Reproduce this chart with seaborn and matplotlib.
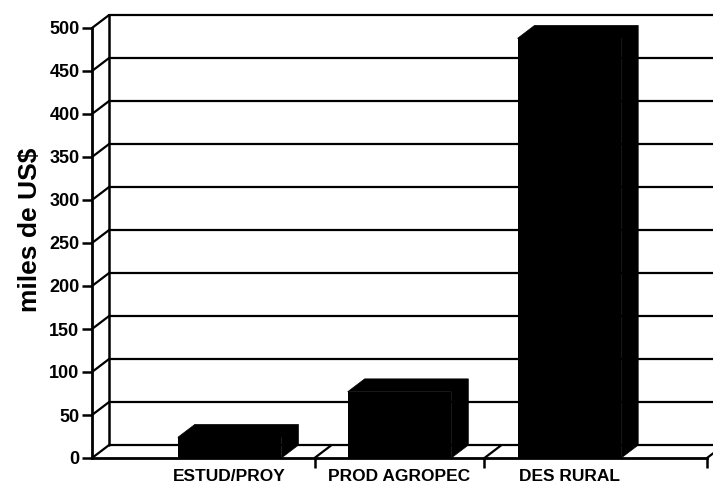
import matplotlib
matplotlib.use("Agg")
import matplotlib.pyplot as plt
from matplotlib.patches import Polygon
import seaborn as sns

categories = ["ESTUD/PROY", "PROD AGROPEC", "DES RURAL"]
values = [24, 77, 488]
yticks = [0, 50, 100, 150, 200, 250, 300, 350, 400, 450, 500]

sns.set_style("white")
plt.rcParams["font.family"] = ["Liberation Sans", "DejaVu Sans"]
plt.rcParams["text.color"] = "black"
plt.rcParams["axes.labelcolor"] = "black"
plt.rcParams["xtick.color"] = "black"
plt.rcParams["ytick.color"] = "black"

fig = plt.figure(figsize=(7.13, 4.84), dpi=100)
ax = fig.add_axes([92 / 713, 26 / 484, 615 / 713, 430 / 484])

sns.barplot(x=categories, y=values, color="black", width=0.61,
            saturation=1, linewidth=0, ax=ax, zorder=3)

xmin, xmax = -0.81, 2.81
ax.set_xlim(xmin, xmax)
ax.set_ylim(0, 500)

# 3D depth offsets (data units)
dx, dy = 0.1, 15

# back wall, gridlines and floor
ax.plot([xmin + dx, xmin + dx], [dy, 500 + dy], color="black", lw=1.8, clip_on=False, zorder=1)
for v in yticks:
    ax.plot([xmin + dx, 3.0], [v + dy, v + dy], color="black", lw=1.6, clip_on=False, zorder=1)
    ax.plot([xmin, xmin + dx], [v, v + dy], color="black", lw=1.6, clip_on=False, zorder=1)
for b in [0.5, 1.5, xmax]:
    ax.plot([b, b + dx], [0, dy], color="black", lw=1.6, clip_on=False, zorder=1)

# depth faces of the bars
for p in ax.patches[:len(values)]:
    x0 = p.get_x()
    x1 = x0 + p.get_width()
    h = p.get_height()
    ax.add_patch(Polygon([(x0, h), (x0 + dx, h + dy), (x1 + dx, h + dy),
                          (x1 + dx, dy), (x1, 0), (x1, h)],
                         closed=True, facecolor="black", edgecolor="black",
                         lw=0.5, clip_on=False, zorder=3))

ax.set_yticks(yticks)
ax.set_yticklabels([str(v) for v in yticks], fontsize=13, fontweight="bold")
ax.set_xticks(range(len(categories)))
ax.set_xticklabels(categories, fontsize=12.5, fontweight="bold")
ax.set_xticks([0.5, 1.5, xmax], minor=True)
ax.tick_params(axis="y", direction="out", length=7, width=1.8, pad=2, left=True)
ax.tick_params(axis="x", which="major", length=0, pad=8)
ax.tick_params(axis="x", which="minor", direction="out", length=7, width=1.8, bottom=True)

for side in ["top", "right"]:
    ax.spines[side].set_visible(False)
for side in ["left", "bottom"]:
    ax.spines[side].set_linewidth(2)
    ax.spines[side].set_color("black")

ax.set_ylabel("miles de US$", fontsize=19, fontweight="bold")
ax.yaxis.set_label_coords(-0.082, 0.53)

fig.savefig("out.png", dpi=100)
